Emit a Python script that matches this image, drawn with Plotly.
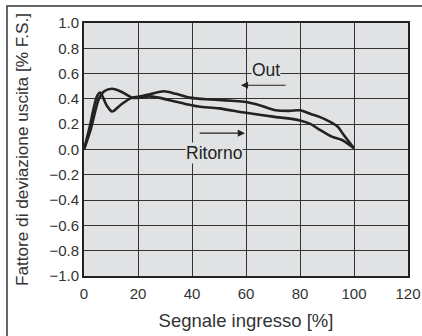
import plotly.graph_objects as go

# Data
out_x = [0, 2, 4.8, 6, 8.5, 10.4, 14, 17.8, 21, 25, 29.5, 34, 39, 47, 55, 60, 65, 71, 76, 80, 84, 87, 91, 94, 96, 100]
out_y = [0, 0.17, 0.42, 0.45, 0.345, 0.30, 0.36, 0.41, 0.42, 0.44, 0.46, 0.44, 0.41, 0.395, 0.385, 0.375, 0.35, 0.31, 0.305, 0.31, 0.28, 0.26, 0.22, 0.18, 0.12, 0.01]

rit_x = [0, 2.5, 5.5, 7.5, 10.4, 14, 17.8, 21, 24, 27.6, 32.6, 37.5, 42.5, 50, 60, 70, 80, 84, 87, 92, 95.4, 100]
rit_y = [0, 0.16, 0.40, 0.46, 0.48, 0.455, 0.41, 0.41, 0.42, 0.41, 0.385, 0.36, 0.34, 0.325, 0.29, 0.26, 0.23, 0.20, 0.16, 0.10, 0.077, 0.01]

x_ticks = [0, 20, 40, 60, 80, 100, 120]
y_ticks = [-1.0, -0.8, -0.6, -0.4, -0.2, 0.0, 0.2, 0.4, 0.6, 0.8, 1.0]

BG = "#e1e2e4"
INK = "#222222"
FONT = "Liberation Sans, Arial, sans-serif"

fig = go.Figure()
for xs, ys, name in [(out_x, out_y, "Out"), (rit_x, rit_y, "Ritorno")]:
    fig.add_trace(go.Scatter(x=xs, y=ys, mode="lines", name=name,
                             line=dict(color=INK, width=2.6, shape="spline", smoothing=0.8),
                             showlegend=False, hoverinfo="skip"))

axis_common = dict(showgrid=True, gridcolor="#333333", gridwidth=1.3,
                   showline=True, linecolor=INK, linewidth=2, mirror=True,
                   zeroline=False, ticks="", automargin=False,
                   tickfont=dict(size=15, color="#333333", family=FONT))

fig.update_xaxes(range=[0, 120], tickvals=x_ticks, ticktext=[str(v) for v in x_ticks],
                 ticklabelstandoff=3,
                 title=dict(text="Segnale ingresso [%]", font=dict(size=18.5, color="#333333", family=FONT), standoff=13),
                 **axis_common)
fig.update_yaxes(range=[-1.0, 1.0], tickvals=y_ticks, tickformat=".1f",
                 title=dict(text="Fattore di deviazione uscita [% F.S.]", font=dict(size=17.2, color="#333333", family=FONT), standoff=16),
                 **axis_common)

# labels and arrows
fig.add_annotation(x=67.4, y=0.625, text="Out", showarrow=False, bgcolor=BG,
                   font=dict(size=17.5, color=INK, family=FONT), borderpad=0)
fig.add_annotation(x=58.1, y=0.508, ax=75.2, ay=0.508, axref="x", ayref="y", text="",
                   showarrow=True, arrowhead=2, arrowsize=1.2, arrowwidth=1.2, arrowcolor=INK)
fig.add_annotation(x=48.3, y=-0.03, text="Ritorno", showarrow=False, bgcolor=BG,
                   font=dict(size=17.5, color=INK, family=FONT), borderpad=0)
fig.add_annotation(x=59.6, y=0.129, ax=42.3, ay=0.129, axref="x", ayref="y", text="",
                   showarrow=True, arrowhead=2, arrowsize=1.2, arrowwidth=1.2, arrowcolor=INK)

# outer frame (partially cut by image edges)
fig.add_shape(type="rect", xref="paper", yref="paper", x0=-0.2377, y0=-0.6, x1=1.5, y1=1.0672,
              line=dict(color="#333333", width=1.5), layer="below")

fig.update_layout(width=422, height=336, margin=dict(l=84, r=14, t=23, b=60),
                  paper_bgcolor="white", plot_bgcolor=BG, font=dict(family=FONT))

fig.write_html("out.html", config={"displayModeBar": False},
               post_script="document.body.style.margin='0';document.body.style.overflow='hidden';")
